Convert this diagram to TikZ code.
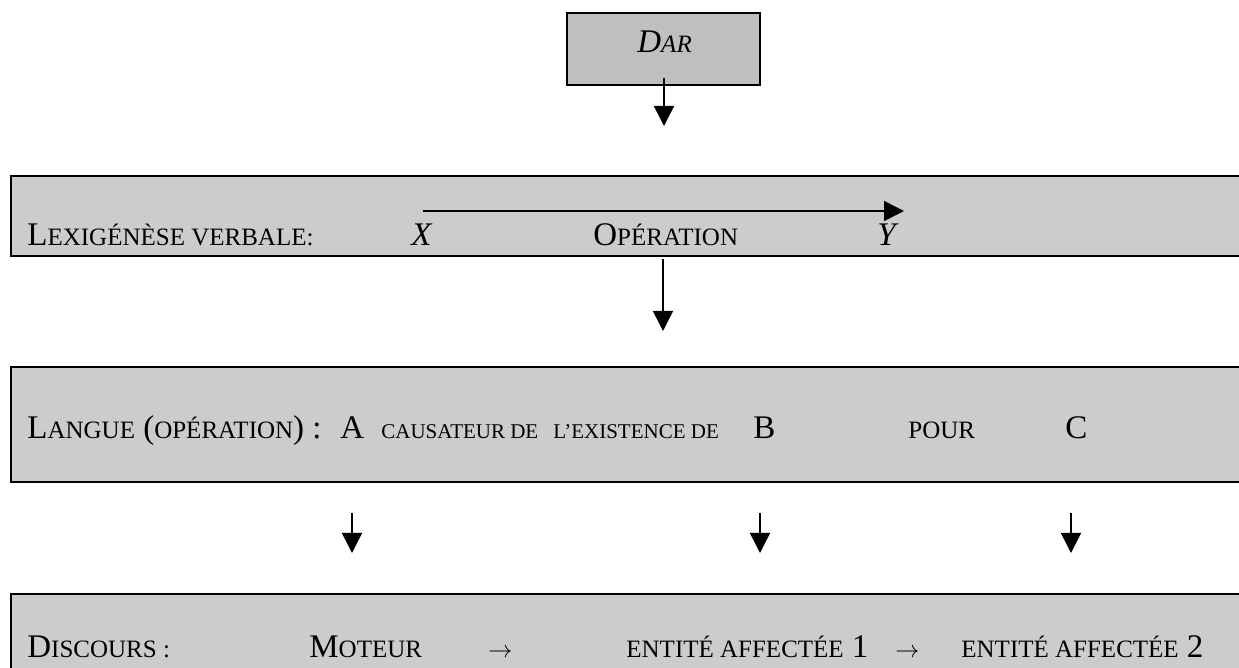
\documentclass[tikz,border=0pt]{standalone}
\usepackage{fontspec}
\setmainfont{Liberation Serif}
\usetikzlibrary{arrows.meta}
\newcommand{\gc}{\fontsize{16.5}{19}\selectfont}
\newcommand{\pc}{\fontsize{12.5}{15}\selectfont}
\newcommand{\tc}{\fontsize{10.5}{13}\selectfont}
\definecolor{boxgray}{gray}{0.8}
\definecolor{dargray}{gray}{0.75}

\begin{document}
\begin{tikzpicture}[x=0.5pt,y=-0.5pt,
  box/.style={draw, line width=1pt, fill=boxgray},
  lbl/.style={anchor=base west, inner sep=0pt, font=\gc},
  arr/.style={line width=0.75pt, -{Triangle[width=10pt,length=10pt]}}]
\clip (0,0) rectangle (1239,668);
\draw[box, fill=dargray] (567,13) rectangle (760,85);
\draw[box] (11,176) rectangle (1260,256);
\draw[box] (11,367) rectangle (1260,482);
\draw[box] (11,594) rectangle (1260,700);
\node[lbl] (dartxt) at (637,53) {\itshape D{\pc AR}};
%% lexigenese
\node[lbl] (lexlbl) at (27,246) {L{\pc EXIGÉNÈSE VERBALE:}};
\node[lbl] (xlbl) at (411,246) {\itshape X};
\node[lbl] (oplbl) at (593,246) {O{\pc PÉRATION}};
\node[lbl] (ylbl) at (877,246) {\itshape Y};
%% langue
\node[lbl] (langlbl) at (27,439) {L{\pc ANGUE} ({\pc OPÉRATION}) :};
\node[lbl] (albl) at (340,439) {A};
\node[lbl] (causlbl) at (381,439) {\tc CAUSATEUR DE};
\node[lbl] (exislbl) at (553,439) {\tc L’EXISTENCE DE};
\node[lbl] (blbl) at (753,439) {B};
\node[lbl] (pourlbl) at (908,439) {\pc POUR};
\node[lbl] (clbl) at (1065,439) {C};
%% discours
\node[lbl] (disclbl) at (27,658) {D{\pc ISCOURS :}};
\node[lbl] (motlbl) at (309,658) {M{\pc OTEUR}};
\node[lbl] (to1) at (488,658) {\pc $\rightarrow$};
\node[lbl] (ent1) at (626,658) {{\pc ENTITÉ AFFECTÉE} 1};
\node[lbl] (to2) at (895,658) {\pc $\rightarrow$};
\node[lbl] (ent2) at (961,658) {{\pc ENTITÉ AFFECTÉE} 2};
%% arrows
\coordinate (darfoot) at (664,78);
\coordinate (lexhead) at (664,126);
\coordinate (xstart) at (423,211);
\coordinate (yend) at (904,211);
\coordinate (lexfoot) at (663,259);
\coordinate (langhead) at (663,331);
\draw[arr] (darfoot) -- (lexhead);
\draw[arr] (xstart) -- (yend);
\draw[arr] (lexfoot) -- (langhead);
\foreach \n/\x in {a/352,b/760,c/1071}{
  \coordinate (\n foot) at (\x,513);
  \coordinate (\n head) at (\x,553);
  \draw[arr] (\n foot) -- (\n head);
}
\end{tikzpicture}
\end{document}
